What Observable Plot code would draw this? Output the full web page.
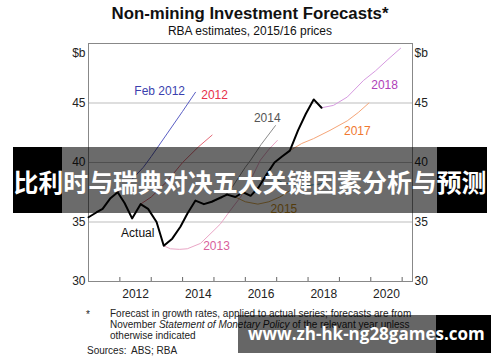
<!DOCTYPE html>
<html><head><meta charset="utf-8">
<script src="https://cdn.jsdelivr.net/npm/d3@7"></script>
<script src="https://cdn.jsdelivr.net/npm/@observablehq/plot@0.6"></script>
<style>
body{margin:0;background:#fff;font-family:"Liberation Sans",Arial,sans-serif;}
#wrap{position:relative;width:500px;height:362px;overflow:hidden;background:#fff;}
#title{position:absolute;left:0;width:500px;top:5px;text-align:center;font-weight:bold;font-size:16.8px;line-height:17px;color:#111;}
#sub{position:absolute;left:0;width:500px;top:25px;text-align:center;font-size:12px;line-height:12px;color:#111;}
#chart{position:absolute;left:0;top:38px;}
.note{position:absolute;font-size:10px;line-height:11px;color:#222;white-space:nowrap;}
.b{position:absolute;}
#t1{position:absolute;left:13px;width:474px;top:166px;text-align:center;font-family:"Noto Sans CJK SC";font-weight:bold;font-size:24.9px;line-height:30px;color:#fff;white-space:nowrap;}
#t2{position:absolute;left:248px;top:323px;font-family:"Open Sans";font-weight:bold;font-size:17px;line-height:22px;color:#fff;white-space:nowrap;}
</style></head><body>
<div id="wrap">
<div id="title">Non-mining Investment Forecasts*</div>
<div id="sub">RBA estimates, 2015/16 prices</div>
<div id="chart"></div>
<div class="note" style="left:86px;top:309px;">*</div>
<div class="note" style="left:110px;top:308px;">Forecast in growth rates, applied to actual series; forecasts are from<br>November <i>Statement of Monetary Policy</i> of the relevant year unless<br>otherwise indicated</div>
<div class="note" style="left:87px;top:345px;">Sources:</div>
<div class="note" style="left:131px;top:345px;">ABS; RBA</div>
<div class="b" style="left:13px;width:49px;top:147px;height:66px;background:#000;"></div>
<div class="b" style="left:62px;width:375px;top:147px;height:66px;background:rgba(0,0,0,0.58);"></div>
<div class="b" style="left:437px;width:50px;top:147px;height:66px;background:#000;"></div>
<div id="t1">比利时与瑞典对决五大关键因素分析与预测</div>
<div class="b" style="left:238px;width:198px;top:315px;height:38px;background:rgba(0,0,0,0.6);"></div>
<div class="b" style="left:436px;width:55px;top:315px;height:38px;background:#000;"></div>
<div id="t2">www.zh-hk-ng28games.com</div>
</div>
<script>
// Data (year as decimal, $b)
const actual = [[2011.0,35.4],[2011.25,35.8],[2011.45,36.1],[2011.7,37.0],[2011.93,37.5],[2012.15,36.6],[2012.39,35.3],[2012.66,36.5],[2012.9,36.1],[2013.17,35.0],[2013.4,33.0],[2013.67,33.6],[2013.93,34.6],[2014.15,35.7],[2014.41,36.8],[2014.68,36.5],[2014.93,36.7],[2015.17,37.0],[2015.42,37.3],[2015.68,37.1],[2015.93,37.5],[2016.17,37.2],[2016.42,37.9],[2016.68,39.0],[2016.93,40.0],[2017.17,40.5],[2017.42,41.0],[2017.68,42.7],[2017.93,44.1],[2018.18,45.3],[2018.43,44.6]];
const feb2012 = [[2011.93,37.5],[2012.25,38.2],[2012.5,38.9],[2012.75,39.6],[2013.0,40.5],[2013.5,42.4],[2014.0,44.3],[2014.41,45.9]];
const f2012 = [[2012.66,36.5],[2013.0,37.1],[2013.5,38.4],[2014.0,40.0],[2014.5,41.3],[2014.94,42.3]];
const f2013 = [[2013.4,33.0],[2013.61,32.75],[2013.9,32.7],[2014.15,32.75],[2014.57,33.2],[2015.0,34.3],[2015.21,34.85],[2015.5,35.9],[2015.85,37.1],[2016.2,38.7],[2016.48,40.2],[2016.75,41.1],[2017.02,41.85]];
const f2014 = [[2014.93,36.7],[2015.25,37.0],[2015.5,37.6],[2015.75,38.6],[2016.0,39.6],[2016.17,40.2],[2016.5,41.5],[2016.96,43.1]];
const f2015 = [[2015.68,37.1],[2016.0,36.7],[2016.4,36.5],[2016.75,36.7],[2017.1,37.1],[2017.4,37.6]];
const f2016 = [[2016.68,39.0],[2017.2,38.3],[2017.8,38.0],[2018.4,38.2],[2018.81,38.7]];
const f2017 = [[2017.42,41.0],[2017.8,41.6],[2018.17,42.0],[2018.7,42.7],[2019.25,43.5],[2019.6,44.2],[2019.94,45.0]];
const f2018 = [[2018.43,44.6],[2018.81,44.8],[2019.25,45.5],[2019.77,46.9],[2020.15,47.7],[2020.52,48.6],[2020.95,49.6]];
const seriesLabels = [
  {t:2013.27, v:46.0, text:"Feb 2012", c:"#3b3fae"},
  {t:2015.02, v:45.7, text:"2012", c:"#e8304a"},
  {t:2016.7, v:43.7, text:"2014", c:"#555"},
  {t:2012.57, v:34.1, text:"Actual", c:"#111"},
  {t:2015.08, v:33.0, text:"2013", c:"#d8609c"},
  {t:2017.23, v:36.1, text:"2015", c:"#c89020"},
  {t:2019.57, v:42.6, text:"2017", c:"#f07830"},
  {t:2020.44, v:46.5, text:"2018", c:"#b040b8"}
];
const yTicks = [30,35,40,45];
const gridValues = [35,40,45];
const yearStarts = [2012,2013,2014,2015,2016,2017,2018,2019,2020,2021];
const yearLabels = [2012,2014,2016,2018,2020];

const line = (data, stroke, w=1) => Plot.line(data, {x: d=>d[0], y: d=>d[1], stroke, strokeWidth: w, curve: "linear"});

const chart = Plot.plot({
  width: 500, height: 272,
  marginLeft: 88, marginRight: 88, marginTop: 5, marginBottom: 29,
  x: {domain: [2011, 2021.33], label: null},
  y: {domain: [30, 50], label: null},
  style: {fontFamily: "'Liberation Sans', Arial, sans-serif", fontSize: "12px", color: "#222", background: "transparent"},
  marks: [
    Plot.gridY(gridValues, {stroke: "#bdbdbd", strokeOpacity: 1}),
    Plot.frame({stroke: "#888"}),
    Plot.axisX({ticks: yearStarts, tickSize: 4, dy: -4, tickFormat: () => "", stroke: "#666", label: null}),
    Plot.axisX({ticks: yearLabels.map(d => d + 0.5), tickSize: 0, tickPadding: 8, tickFormat: d => String(Math.floor(d)), fontSize: 12, label: null}),
    Plot.axisY({anchor: "left", ticks: yTicks, tickSize: 0, tickPadding: 3, fontSize: 12, label: null}),
    Plot.axisY({anchor: "right", ticks: yTicks, tickSize: 0, tickPadding: 2, fontSize: 12, label: null}),
    Plot.text(["$b"], {frameAnchor: "top-left", textAnchor: "end", dx: -3, dy: 5, fontSize: 12}),
    Plot.text(["$b"], {frameAnchor: "top-right", textAnchor: "start", dx: 2, dy: 5, fontSize: 12}),
    line(feb2012, "#5a5ec4"),
    line(f2012, "#e46a78"),
    line(f2013, "#eaa6c6"),
    line(f2014, "#8c8c8c"),
    line(f2015, "#d8a850"),
    line(f2016, "#49aac4"),
    line(f2017, "#f5a578"),
    line(f2018, "#d69ae0"),
    line(actual, "#000", 2),
    Plot.text(seriesLabels, {x: "t", y: "v", text: "text", fill: "c", fontSize: 12})
  ]
});
document.getElementById("chart").appendChild(chart);
</script>
</body></html>
